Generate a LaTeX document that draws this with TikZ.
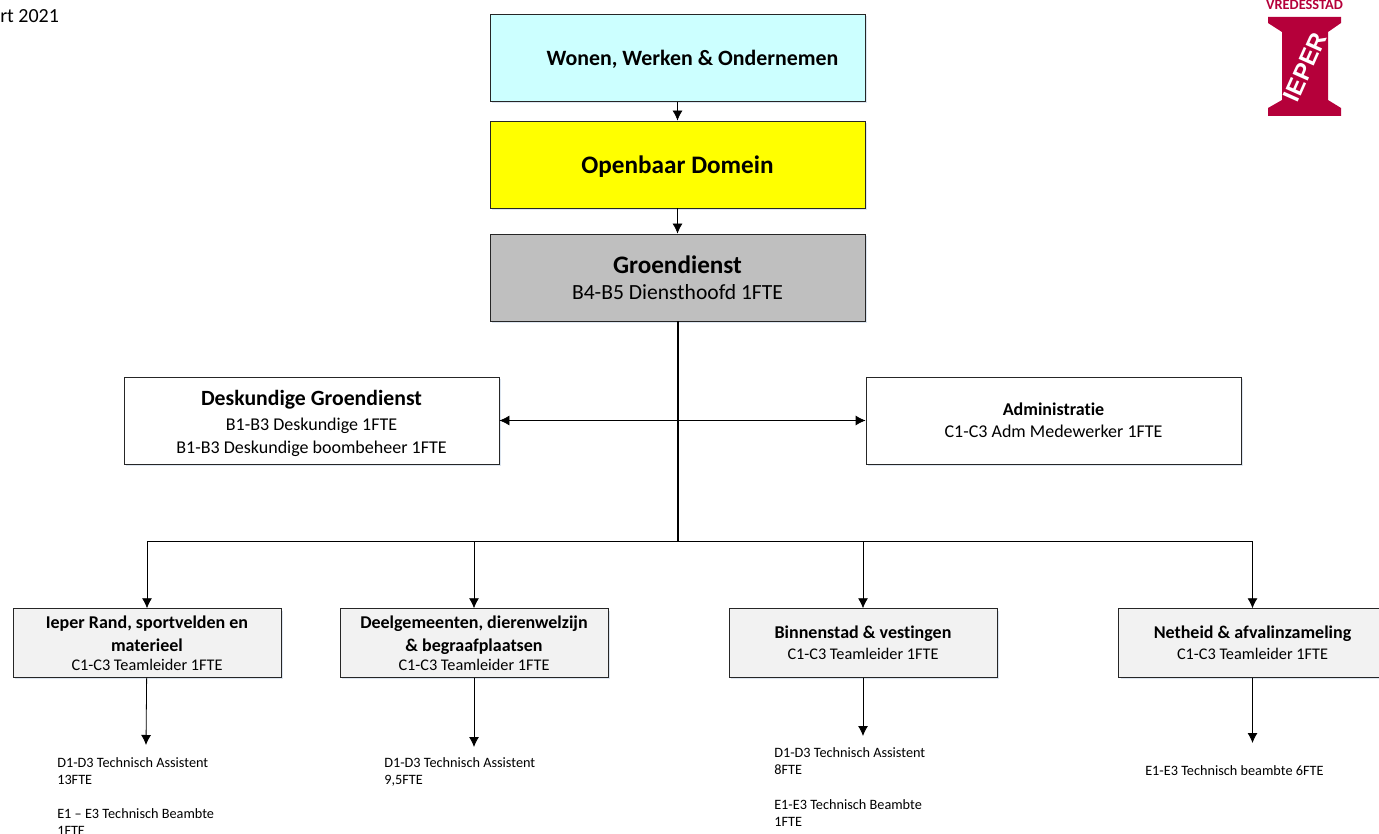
\documentclass[tikz,border=0pt]{standalone}
\usepackage{fontspec}
\setmainfont[Ligatures=NoCommon]{Carlito}
\newfontfamily\logofont{Liberation Sans}
\usepackage{tikz}
\usetikzlibrary{arrows.meta,shadows,positioning}
\definecolor{logored}{HTML}{B5003A}
\definecolor{topcyan}{HTML}{CCFFFF}
\definecolor{headyellow}{HTML}{FFFF00}
\definecolor{headgray}{HTML}{BFBFBF}
\definecolor{teamgray}{HTML}{F2F2F2}
\definecolor{shadowblue}{HTML}{9DB8D8}
\newcommand{\fs}[1]{\fontsize{#1}{#1}\selectfont}

\begin{document}
\begin{tikzpicture}[x=0.75pt,y=-0.75pt]
    \tikzset{vertex/.style = {shape=rectangle,draw=black!85,line width=0.6pt,align=center,inner sep=0pt,
        drop shadow={shadow xshift=1.5pt,shadow yshift=-1.5pt,opacity=.35,fill=shadowblue}}}
    \tikzset{bigbox/.style = {vertex,minimum width=281.25pt,minimum height=65.25pt}}
    \tikzset{teambox/.style = {vertex,fill=teamgray,minimum width=201pt,minimum height=51.5pt}}
    \tikzset{staff/.style = {align=left,anchor=north west,inner sep=0pt,font=\fs{10.7}}}
    \tikzset{edge/.style = {-{Latex[length=7.5pt,width=7.5pt]},line width=0.6pt}}
    \useasboundingbox (0,0) rectangle (1379,834);
    % vertices
    \node[bigbox,fill=topcyan] (wonen) at (677.5,58) {\fs{16.4}\hspace*{22.5pt}\rule{0pt}{14pt}\textbf{Wonen, Werken \& Ondernemen}};
    \node[bigbox,fill=headyellow] (openbaar) at (677.5,164.5) {\fs{18.9}\rule{0pt}{16pt}\textbf{Openbaar Domein}};
    \node[bigbox,fill=headgray] (groen) at (677.5,277.5) {\fs{18.9}\textbf{Groendienst}\\[7.75pt]\fs{16.2}B4-B5 Diensthoofd 1FTE};
    \node[bigbox,fill=white] (deskundige) at (311.5,420.5) {\fs{16.3}\rule{0pt}{16pt}\textbf{Deskundige Groendienst}\\[5pt]\fs{13.5}B1-B3 Deskundige 1FTE\\[5.3pt]\fs{13.5}B1-B3 Deskundige boombeheer 1FTE};
    \node[bigbox,fill=white] (admin) at (1053.5,420.5) {\fs{13.5}\textbf{Administratie}\\[4.5pt]\fs{13.5}C1-C3 Adm Medewerker 1FTE};
    \node[teambox] (ieper) at (147,643) {\fs{13.5}\textbf{Ieper Rand, sportvelden en}\\[5.75pt]\fs{13.5}\textbf{materieel}\\[1.75pt]\fs{12.2}C1-C3 Teamleider 1FTE};
    \node[teambox] (deel) at (474,643) {\fs{13.5}\textbf{Deelgemeenten, dierenwelzijn}\\[5.75pt]\fs{13.5}\textbf{\& begraafplaatsen}\\[1.75pt]\fs{12.2}C1-C3 Teamleider 1FTE};
    \node[teambox] (binnen) at (863,643) {\fs{13.5}\textbf{Binnenstad \& vestingen}\\[3.5pt]\fs{12.2}C1-C3 Teamleider 1FTE};
    \node[teambox] (net) at (1252.5,643) {\fs{13.5}\textbf{Netheid \& afvalinzameling}\\[3.5pt]\fs{12.2}C1-C3 Teamleider 1FTE};
    % staff texts
    \node[staff] (ieperstaff) at (57,757) {D1-D3 Technisch Assistent\\[2pt]13FTE\\[15.4pt]E1 -- E3 Technisch Beambte\\[2pt]1FTE};
    \node[staff] (deelstaff) at (384,757) {D1-D3 Technisch Assistent\\[2pt]9,5FTE};
    \node[staff] (binnenstaff) at (774,747.5) {D1-D3 Technisch Assistent\\[2pt]8FTE\\[15.4pt]E1-E3 Technisch Beambte\\[2pt]1FTE};
    \node[staff] (netstaff) at (1145,765) {E1-E3 Technisch beambte 6FTE};
    \node[anchor=north west,inner sep=0pt,font=\fs{15}] (datum) at (0,9) {rt 2021};
    % free ends
    \coordinate (split) at (677.5,541);
    \coordinate (ieperend) at (146,745);
    \coordinate (deelend) at (474,747);
    \coordinate (binnenend) at (863,736);
    \coordinate (netend) at (1252.5,743);
    % connectors
    \draw[edge] (wonen) -- (openbaar);
    \draw[edge] (openbaar) -- (groen);
    \draw[line width=1.5pt] (groen) -- (split);
    \draw[edge,{Latex[length=7.5pt,width=7.5pt]}-{Latex[length=7.5pt,width=7.5pt]}] (deskundige) -- (admin);
    \draw[edge] (split) -| (ieper);
    \draw[edge] (split) -| (deel);
    \draw[edge] (split) -| (binnen);
    \draw[edge] (split) -| (net);
    \draw[edge] (ieper) -- (ieperend);
    \draw[edge] (deel) -- (deelend);
    \draw[edge] (binnen) -- (binnenend);
    \draw[edge] (net) -- (netend);
    % logo
    \fill[logored] (1268,17) -- (1341,17) -- (1341,23) -- (1328,32) -- (1328,100) -- (1341,108) -- (1341,116)
        -- (1268,116) -- (1268,108) -- (1282,100) -- (1282,32) -- (1268,23) -- cycle;
    \node[inner sep=0pt,text=white,rotate=66,font=\logofont\fs{18}\bfseries] (ieperlogo) at (1305,67) {IEPER};
    \node[inner sep=0pt,text=logored,font=\fs{10.8}\bfseries] (vrede) at (1304.5,4.5) {VREDESSTAD};
\end{tikzpicture}
\end{document}
